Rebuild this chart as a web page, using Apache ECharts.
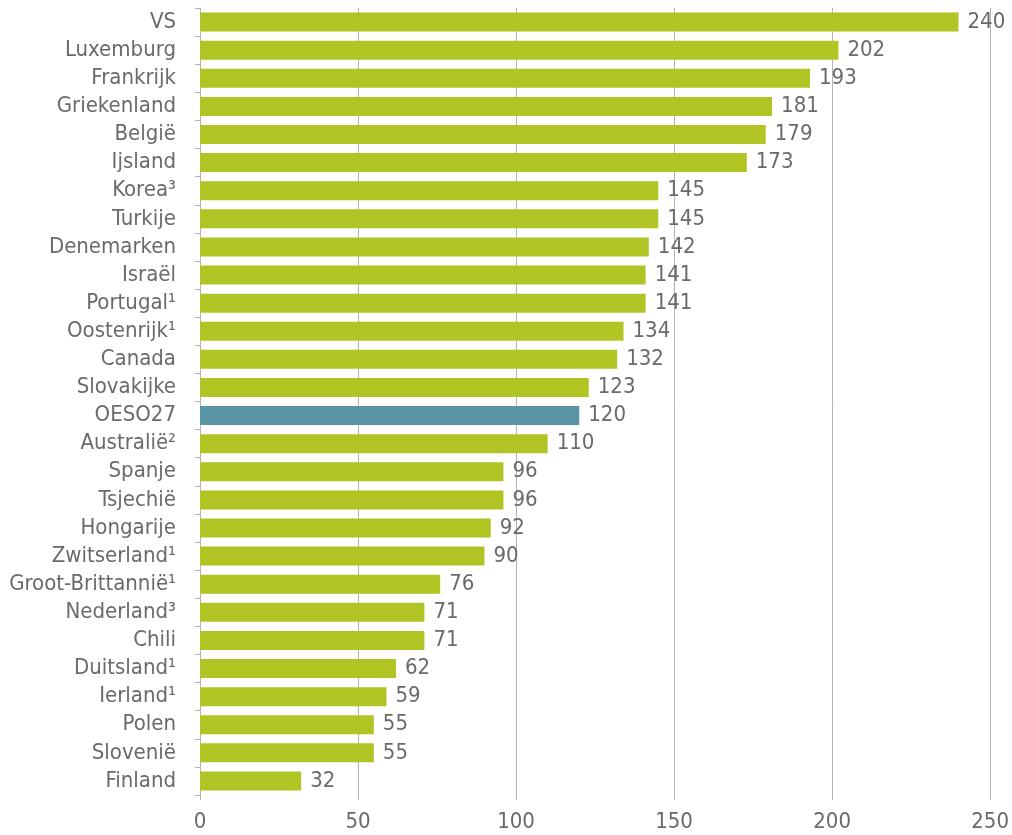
<!DOCTYPE html>
<html>
<head>
<meta charset="utf-8">
<script src="https://cdn.jsdelivr.net/npm/echarts@6/dist/echarts.min.js"></script>
<style>
html,body{margin:0;padding:0;background:#fff;}
#chart{width:1012px;height:835px;}
</style>
</head>
<body>
<div id="chart"></div>
<script>
const categories = ["VS","Luxemburg","Frankrijk","Griekenland","België","Ijsland","Korea³","Turkije","Denemarken","Israël","Portugal¹","Oostenrijk¹","Canada","Slovakijke","OESO27","Australië²","Spanje","Tsjechië","Hongarije","Zwitserland¹","Groot-Brittannië¹","Nederland³","Chili","Duitsland¹","Ierland¹","Polen","Slovenië","Finland"];
const values = [240,202,193,181,179,173,145,145,142,141,141,134,132,123,120,110,96,96,92,90,76,71,71,62,59,55,55,32];
const highlight = "OESO27";
const xTicks = {min:0, max:250, interval:50};

const FONT = '"Liberation Sans Narrow","DejaVu Sans Condensed",sans-serif';
const GREEN = '#b0c423';
const BLUE = '#5a95a7';
const TXT = '#6a6a6a';

const chart = echarts.init(document.getElementById('chart'));
chart.setOption({
  animation:false,
  grid:{left:200,right:19,top:8,bottom:40,containLabel:false},
  xAxis:{
    type:'value', min:xTicks.min, max:xTicks.max, interval:xTicks.interval,
    axisLine:{show:false},
    axisTick:{show:true,length:5,lineStyle:{color:'#b4b4b4'}},
    splitLine:{show:true,lineStyle:{color:'#b4b4b4',width:1}},
    axisLabel:{color:TXT,fontFamily:FONT,fontSize:22,margin:16}
  },
  yAxis:{
    type:'category', data:categories, inverse:true,
    axisLine:{show:true,lineStyle:{color:'#b4b4b4'}},
    axisTick:{show:true,length:5,interval:0,lineStyle:{color:'#b4b4b4'}},
    axisLabel:{color:TXT,fontFamily:FONT,fontSize:22,margin:24,interval:0}
  },
  series:[{
    type:'bar',
    data:values.map((v,i)=>({value:v,itemStyle:{color:categories[i]===highlight?BLUE:GREEN}})),
    barWidth:19,
    label:{show:true,position:'right',distance:9,color:TXT,fontFamily:FONT,fontSize:22}
  }]
});
</script>
</body>
</html>
